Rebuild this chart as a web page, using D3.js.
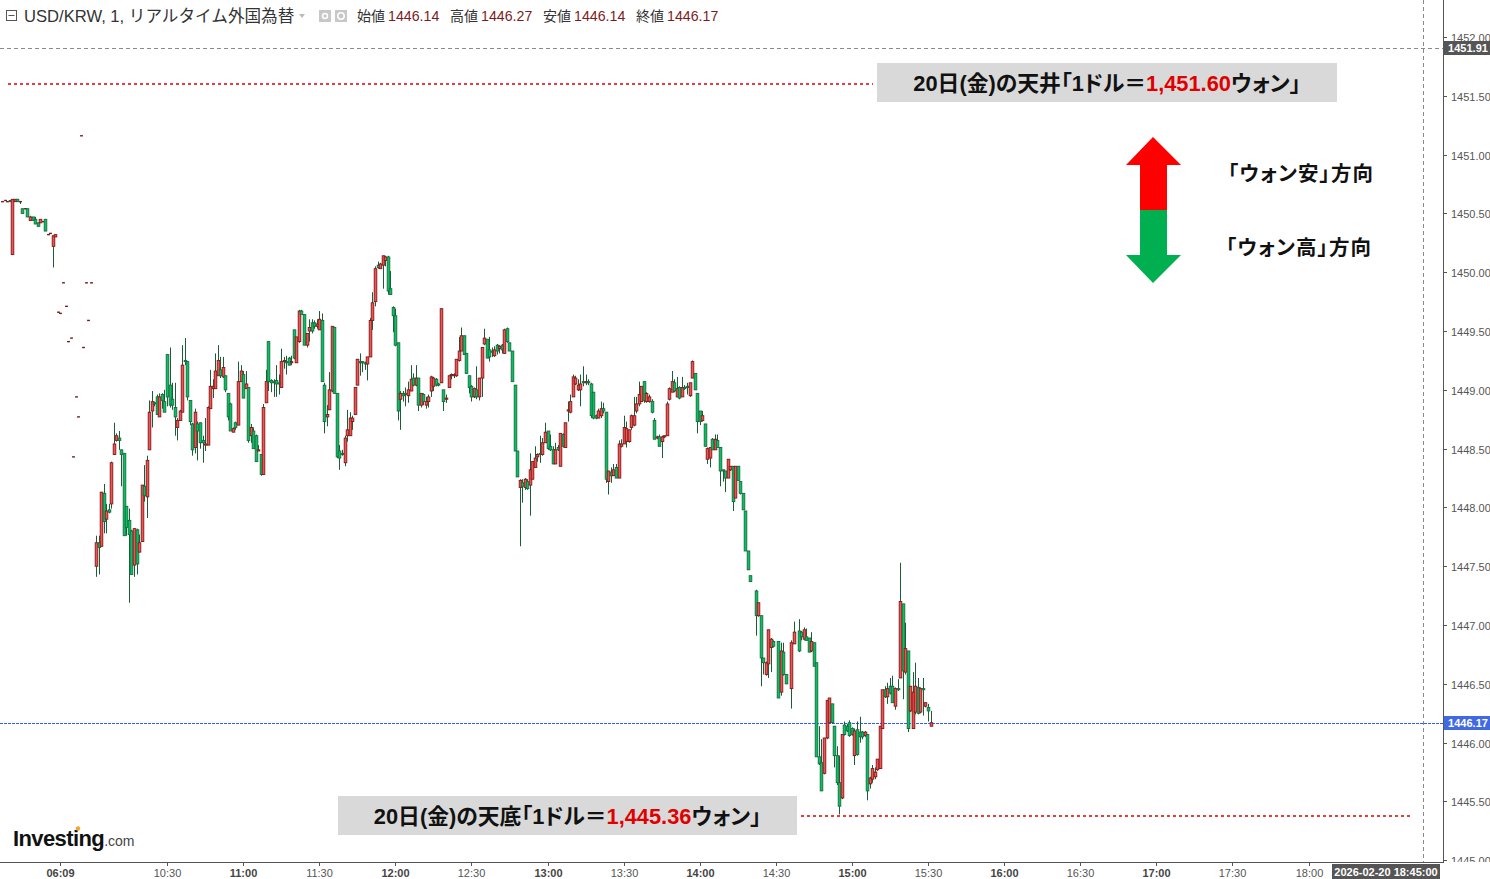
<!DOCTYPE html>
<html><head><meta charset="utf-8">
<script src="https://cdn.jsdelivr.net/npm/d3@7"></script>
<style>html,body{margin:0;padding:0;background:#fff;overflow:hidden}
.palt{font-feature-settings:"palt" 1;}</style>
</head><body>
<svg id="c" width="1490" height="879"></svg>
<script>
// ---------- DATA ----------
const symbolTitle = "USD/KRW, 1, リアルタイム外国為替";
const ohlcLabels = ["始値","高値","安値","終値"];
const ohlcValues = ["1446.14","1446.27","1446.14","1446.17"];
const priceTicks = [1445.0,1445.5,1446.0,1446.5,1447.0,1447.5,1448.0,1448.5,1449.0,1449.5,1450.0,1450.5,1451.0,1451.5,1452.0];
const timeTickSlots = [-42,0,30,60,90,120,150,180,210,240,270,300,330,360,390,420,450];
const timeTickLabels = ["06:09","10:30","11:00","11:30","12:00","12:30","13:00","13:30","14:00","14:30","15:00","15:30","16:00","16:30","17:00","17:30","18:00"];
const lastPrice = 1446.17;
const crossPrice = 1451.91;
const crossSlot = 495;
const crossLabel = "2026-02-20 18:45:00";
const dayHigh = 1451.60;
const dayLow = 1445.36;
const highText = ["20日(金)の天井「1ドル＝","1,451.60","ウォン」"];
const lowText = ["20日(金)の天底「1ドル＝","1,445.36","ウォン」"];
const arrowTexts = ["「ウォン安」方向","「ウォン高」方向"];
// candles: [slot, open, high, low, close]  (slot = minutes from 10:30, pre-session slots compressed)
const candles = [
[-65,1450.60,1450.60,1450.60,1450.60],[-64,1450.61,1450.61,1450.61,1450.61],[-63,1450.60,1450.60,1450.60,1450.60],
[-62,1450.61,1450.61,1450.60,1450.60],[-61,1450.15,1450.62,1450.15,1450.62],[-60,1450.60,1450.62,1450.60,1450.62],
[-59,1450.62,1450.62,1450.60,1450.60],[-58,1450.60,1450.60,1450.58,1450.60],[-57,1450.54,1450.54,1450.50,1450.50],
[-56,1450.54,1450.54,1450.54,1450.54],[-55,1450.54,1450.54,1450.47,1450.47],[-54,1450.44,1450.48,1450.44,1450.47],
[-53,1450.47,1450.47,1450.44,1450.44],[-52,1450.45,1450.47,1450.41,1450.41],[-51,1450.42,1450.42,1450.39,1450.39],
[-50,1450.42,1450.45,1450.42,1450.45],[-49,1450.43,1450.43,1450.43,1450.43],[-48,1450.45,1450.45,1450.35,1450.35],
[-47,1450.32,1450.32,1450.32,1450.32],[-46,1450.33,1450.33,1450.33,1450.33],[-45,1450.22,1450.31,1450.04,1450.31],
[-44,1450.30,1450.32,1450.30,1450.32],
[-43,1449.66,1449.66,1449.66,1449.66],[-42,1449.65,1449.65,1449.65,1449.65],[-41,1449.91,1449.91,1449.91,1449.91],
[-40,1449.71,1449.71,1449.71,1449.71],[-39,1449.41,1449.41,1449.41,1449.41],[-38,1449.44,1449.44,1449.44,1449.44],
[-37,1448.43,1448.43,1448.43,1448.43],[-36,1448.94,1448.94,1448.94,1448.94],[-35,1448.77,1448.77,1448.77,1448.77],
[-34,1451.16,1451.16,1451.16,1451.16],[-33,1449.36,1449.36,1449.36,1449.36],[-32,1449.91,1449.91,1449.91,1449.91],
[-31,1449.59,1449.59,1449.59,1449.59],[-30,1449.91,1449.91,1449.91,1449.91],
[-28,1447.50,1447.76,1447.41,1447.70],[-27,1447.70,1447.76,1447.43,1447.66],[-26,1447.67,1448.13,1447.67,1448.13],
[-25,1448.12,1448.20,1447.78,1447.88],[-24,1447.90,1448.03,1447.78,1447.97],[-23,1447.98,1448.03,1447.95,1447.96],
[-22,1448.03,1448.39,1447.99,1448.38],[-21,1448.45,1448.72,1448.45,1448.54],[-20,1448.57,1448.63,1448.56,1448.61],
[-19,1448.59,1448.65,1448.49,1448.57],[-18,1448.49,1448.49,1448.18,1448.45],[-17,1448.46,1448.46,1447.76,1447.76],
[-16,1448.01,1448.01,1447.76,1447.83],[-15,1447.89,1447.99,1447.19,1447.77],[-14,1447.80,1447.81,1447.43,1447.43],
[-13,1447.51,1447.82,1447.41,1447.82],[-12,1447.81,1447.82,1447.43,1447.52],[-11,1447.62,1447.77,1447.62,1447.70],
[-10,1447.71,1448.19,1447.71,1448.19],[-9,1448.18,1448.36,1448.05,1448.10],[-8,1448.09,1448.44,1447.91,1448.40],
[-7,1448.49,1448.91,1448.49,1448.81],[-6,1448.82,1448.99,1448.68,1448.90],[-5,1448.89,1448.90,1448.86,1448.88],
[-4,1448.94,1448.96,1448.79,1448.79],[-3,1448.77,1448.97,1448.77,1448.94],[-2,1448.96,1448.97,1448.84,1448.91],
[-1,1448.90,1449.00,1448.81,1448.81],[0,1449.30,1449.30,1448.86,1448.94],[1,1449.04,1449.36,1448.85,1448.87],
[2,1448.92,1449.06,1448.83,1448.87],[3,1448.85,1449.06,1448.61,1448.77],[4,1448.68,1448.76,1448.57,1448.74],
[5,1448.74,1448.83,1448.74,1448.82],[6,1448.81,1449.38,1448.81,1449.21],[7,1449.25,1449.44,1449.21,1449.24],
[8,1449.24,1449.24,1448.91,1448.94],[9,1448.91,1448.91,1448.70,1448.73],[10,1448.71,1448.72,1448.44,1448.49],
[11,1448.51,1448.84,1448.46,1448.81],[12,1448.71,1448.73,1448.40,1448.65],[13,1448.72,1448.72,1448.50,1448.55],
[14,1448.57,1448.61,1448.38,1448.55],[15,1448.53,1448.76,1448.48,1448.54],[16,1448.53,1448.86,1448.53,1448.85],
[17,1448.84,1449.17,1448.84,1449.03],[18,1449.01,1449.09,1448.93,1449.03],[19,1449.01,1449.31,1449.01,1449.16],
[20,1449.12,1449.38,1449.12,1449.25],[21,1449.17,1449.28,1449.10,1449.12],[22,1449.11,1449.28,1449.10,1449.19],
[23,1449.12,1449.12,1448.98,1449.00],[24,1448.97,1448.97,1448.74,1448.77],[25,1448.88,1448.89,1448.65,1448.65],
[26,1448.64,1448.68,1448.64,1448.67],[27,1448.72,1448.73,1448.66,1448.68],[28,1448.70,1449.24,1448.70,1449.07],
[29,1449.07,1449.21,1449.07,1449.16],[30,1449.13,1449.16,1448.93,1448.93],[31,1449.01,1449.16,1449.01,1449.05],
[32,1449.02,1449.02,1448.55,1448.57],[33,1448.61,1448.71,1448.55,1448.68],[34,1448.65,1448.68,1448.50,1448.50],
[35,1448.61,1448.62,1448.39,1448.39],[36,1448.48,1448.53,1448.48,1448.49],[37,1448.45,1448.45,1448.27,1448.28],
[38,1448.28,1448.88,1448.28,1448.85],[39,1448.89,1449.17,1448.89,1449.07],[40,1449.41,1449.41,1448.99,1449.07],
[41,1449.08,1449.09,1448.98,1449.06],[42,1449.07,1449.09,1448.94,1449.06],[43,1449.08,1449.21,1448.94,1449.05],
[44,1449.06,1449.13,1448.96,1449.05],[45,1449.02,1449.35,1449.02,1449.24],[46,1449.24,1449.28,1449.18,1449.25],
[47,1449.24,1449.29,1449.13,1449.23],[48,1449.27,1449.28,1449.21,1449.21],[49,1449.23,1449.29,1449.21,1449.24],
[50,1449.51,1449.51,1449.26,1449.27],[51,1449.23,1449.45,1449.23,1449.45],[52,1449.41,1449.68,1449.40,1449.67],
[53,1449.67,1449.68,1449.64,1449.64],[54,1449.64,1449.64,1449.38,1449.38],[55,1449.38,1449.48,1449.36,1449.48],
[56,1449.50,1449.60,1449.41,1449.53],[57,1449.57,1449.60,1449.48,1449.50],[58,1449.57,1449.59,1449.52,1449.54],
[59,1449.54,1449.60,1449.52,1449.56],[60,1449.51,1449.67,1449.51,1449.60],[61,1449.59,1449.65,1449.07,1449.07],
[62,1449.04,1449.06,1448.63,1448.73],[63,1448.77,1448.87,1448.69,1448.79],[64,1448.83,1449.15,1448.83,1449.00],
[65,1448.99,1449.54,1448.98,1449.54],[66,1449.53,1449.53,1448.97,1448.97],[67,1448.97,1448.97,1448.42,1448.43],
[68,1448.48,1448.53,1448.32,1448.42],[69,1448.46,1448.49,1448.44,1448.45],[70,1448.38,1448.61,1448.35,1448.59],
[71,1448.61,1448.83,1448.56,1448.66],[72,1448.61,1448.81,1448.61,1448.76],[73,1448.73,1448.78,1448.66,1448.76],
[74,1448.79,1449.02,1448.79,1449.02],[75,1449.04,1449.26,1449.04,1449.26],[76,1449.24,1449.31,1449.12,1449.23],
[77,1449.24,1449.24,1449.15,1449.23],[78,1449.23,1449.24,1449.17,1449.22],[79,1449.22,1449.28,1449.08,1449.28],
[80,1449.28,1449.61,1449.28,1449.59],[81,1449.59,1449.83,1449.51,1449.74],[82,1449.75,1450.05,1449.71,1450.03],
[83,1450.06,1450.09,1450.03,1450.04],[84,1450.03,1450.08,1450.03,1450.07],[85,1450.06,1450.14,1449.86,1450.14],
[86,1450.10,1450.14,1450.05,1450.13],[87,1450.13,1450.14,1449.81,1449.84],[88,1449.86,1450.01,1449.81,1449.81],
[89,1449.70,1449.71,1449.49,1449.63],[90,1449.63,1449.69,1449.37,1449.38],[91,1449.40,1449.40,1448.74,1448.82],
[92,1448.92,1448.99,1448.66,1448.97],[93,1448.97,1448.99,1448.90,1448.95],[94,1448.97,1449.02,1448.86,1448.96],
[95,1448.95,1449.07,1448.89,1449.00],[96,1448.99,1449.21,1448.99,1449.09],[97,1449.10,1449.14,1449.03,1449.04],
[98,1449.04,1449.21,1449.03,1449.10],[99,1449.10,1449.10,1448.82,1448.87],[100,1448.87,1448.97,1448.85,1448.97],
[101,1448.96,1448.97,1448.87,1448.90],[102,1448.87,1448.94,1448.84,1448.90],[103,1448.90,1448.96,1448.85,1448.94],
[104,1448.99,1449.12,1448.94,1449.11],[105,1449.03,1449.11,1448.99,1449.10],[106,1449.09,1449.10,1449.03,1449.04],
[107,1449.05,1449.06,1449.03,1449.04],[108,1449.06,1449.69,1449.06,1449.69],[109,1449.00,1449.00,1448.82,1448.90],
[110,1448.92,1448.96,1448.89,1448.93],[111,1449.02,1449.12,1449.02,1449.12],[112,1449.12,1449.14,1449.09,1449.13],
[113,1449.12,1449.14,1449.10,1449.13],[114,1449.12,1449.26,1449.11,1449.26],[115,1449.25,1449.45,1449.24,1449.33],
[116,1449.33,1449.53,1449.33,1449.46],[117,1449.46,1449.46,1449.30,1449.30],[118,1449.31,1449.31,1449.14,1449.14],
[119,1449.12,1449.12,1448.97,1449.02],[120,1449.03,1449.04,1448.90,1448.94],[121,1448.94,1449.02,1448.93,1449.01],
[122,1449.00,1449.20,1448.92,1448.94],[123,1448.94,1449.10,1448.91,1449.10],[124,1449.10,1449.36,1448.94,1449.36],
[125,1449.39,1449.52,1449.38,1449.44],[126,1449.43,1449.43,1449.27,1449.27],[127,1449.34,1449.45,1449.24,1449.28],
[128,1449.33,1449.36,1449.28,1449.32],[129,1449.29,1449.37,1449.28,1449.34],[130,1449.38,1449.39,1449.30,1449.33],
[131,1449.35,1449.38,1449.31,1449.37],[132,1449.38,1449.39,1449.31,1449.34],[133,1449.31,1449.52,1449.31,1449.51],
[134,1449.52,1449.53,1449.40,1449.41],[135,1449.40,1449.40,1449.33,1449.33],[136,1449.33,1449.33,1449.07,1449.07],
[137,1449.04,1449.04,1448.48,1448.48],[138,1448.48,1448.48,1448.26,1448.26],[139,1448.17,1448.24,1447.67,1448.23],
[140,1448.21,1448.24,1448.04,1448.18],[141,1448.17,1448.25,1448.15,1448.24],[142,1448.22,1448.24,1448.15,1448.16],
[143,1448.19,1448.46,1447.93,1448.32],[144,1448.24,1448.39,1448.24,1448.39],[145,1448.34,1448.52,1448.34,1448.42],
[146,1448.43,1448.46,1448.39,1448.45],[147,1448.46,1448.61,1448.38,1448.45],[148,1448.45,1448.59,1448.44,1448.55],
[149,1448.55,1448.72,1448.55,1448.64],[150,1448.65,1448.65,1448.49,1448.50],[151,1448.52,1448.62,1448.48,1448.49],
[152,1448.49,1448.52,1448.37,1448.37],[153,1448.37,1448.55,1448.37,1448.49],[154,1448.51,1448.53,1448.48,1448.49],
[155,1448.35,1448.63,1448.35,1448.63],[156,1448.62,1448.63,1448.51,1448.52],[157,1448.51,1448.72,1448.51,1448.72],
[158,1448.82,1448.90,1448.73,1448.83],[159,1448.81,1448.96,1448.80,1448.90],[160,1448.94,1449.13,1448.94,1449.11],
[161,1449.05,1449.12,1449.04,1449.10],[162,1449.00,1449.09,1448.99,1449.04],[163,1449.00,1449.13,1448.86,1449.05],
[164,1449.07,1449.20,1449.03,1449.06],[165,1449.06,1449.13,1449.04,1449.07],[166,1449.07,1449.09,1449.04,1449.06],
[167,1449.05,1449.06,1448.76,1448.78],[168,1448.98,1448.98,1448.75,1448.76],[169,1448.78,1448.79,1448.75,1448.76],
[170,1448.76,1448.84,1448.76,1448.82],[171,1448.78,1448.90,1448.76,1448.84],[172,1448.84,1448.89,1448.80,1448.82],
[173,1448.81,1448.81,1448.21,1448.24],[174,1448.22,1448.31,1448.11,1448.31],[175,1448.30,1448.34,1448.21,1448.27],
[176,1448.27,1448.37,1448.27,1448.32],[177,1448.34,1448.37,1448.25,1448.25],[178,1448.25,1448.57,1448.25,1448.54],
[179,1448.52,1448.58,1448.51,1448.54],[180,1448.54,1448.78,1448.54,1448.68],[181,1448.56,1448.73,1448.51,1448.67],
[182,1448.56,1448.66,1448.55,1448.66],[183,1448.68,1448.79,1448.66,1448.78],[184,1448.70,1448.94,1448.69,1448.78],
[185,1448.82,1448.94,1448.80,1448.88],[186,1448.88,1449.07,1448.86,1448.96],[187,1448.90,1449.03,1448.90,1449.03],
[188,1449.07,1449.07,1448.89,1448.91],[189,1448.90,1448.98,1448.89,1448.97],[190,1448.90,1448.96,1448.89,1448.94],
[191,1448.90,1448.92,1448.80,1448.81],[192,1448.74,1448.76,1448.58,1448.58],[193,1448.59,1448.61,1448.58,1448.60],
[194,1448.60,1448.62,1448.52,1448.52],[195,1448.56,1448.61,1448.42,1448.60],[196,1448.60,1448.61,1448.59,1448.61],
[197,1448.61,1448.90,1448.61,1448.88],[198,1448.92,1449.02,1448.91,1449.01],[199,1448.98,1449.16,1448.98,1449.07],
[200,1449.06,1449.09,1448.98,1448.99],[201,1448.94,1449.11,1448.94,1449.01],[202,1449.02,1449.03,1448.92,1448.93],
[203,1448.94,1449.11,1448.94,1449.02],[204,1449.02,1449.04,1449.00,1449.01],[205,1449.03,1449.06,1448.96,1449.02],
[206,1448.95,1449.06,1448.94,1449.06],[207,1449.10,1449.25,1449.10,1449.24],[208,1449.14,1449.14,1449.00,1449.00],
[209,1448.97,1448.97,1448.63,1448.73],[210,1448.82,1448.82,1448.70,1448.73],[211,1448.74,1448.82,1448.73,1448.78],
[212,1448.71,1448.71,1448.52,1448.52],[213,1448.41,1448.51,1448.37,1448.50],[214,1448.42,1448.51,1448.34,1448.51],
[215,1448.58,1448.59,1448.49,1448.49],[216,1448.49,1448.62,1448.49,1448.58],[217,1448.57,1448.62,1448.51,1448.51],
[218,1448.51,1448.51,1448.18,1448.31],[219,1448.32,1448.32,1448.22,1448.31],[220,1448.31,1448.31,1448.13,1448.25],
[221,1448.25,1448.41,1448.25,1448.41],[222,1448.32,1448.35,1448.31,1448.35],[223,1448.35,1448.35,1447.97,1448.05],
[224,1448.08,1448.35,1448.08,1448.35],[225,1448.35,1448.35,1448.23,1448.23],[226,1448.22,1448.22,1448.11,1448.12],
[227,1448.12,1448.12,1447.98,1447.98],[228,1447.97,1447.97,1447.63,1447.63],[229,1447.63,1447.63,1447.47,1447.47],
[230,1447.42,1447.42,1447.37,1447.37],[232,1447.29,1447.30,1446.91,1447.08],[233,1447.08,1447.19,1447.07,1447.19],
[234,1447.08,1447.08,1446.48,1446.72],[235,1446.72,1446.72,1446.58,1446.68],[236,1446.58,1446.69,1446.57,1446.68],
[237,1446.67,1446.96,1446.55,1446.96],[238,1446.81,1446.89,1446.60,1446.88],[239,1446.86,1446.87,1446.81,1446.82],
[241,1446.86,1446.86,1446.38,1446.38],[242,1446.43,1446.85,1446.40,1446.78],[243,1446.77,1446.85,1446.57,1446.58],
[244,1446.58,1446.58,1446.50,1446.50],[246,1446.46,1446.87,1446.29,1446.85],[247,1446.84,1447.03,1446.84,1446.94],
[249,1446.95,1447.05,1446.77,1446.78],[250,1446.94,1446.95,1446.87,1446.90],[251,1446.88,1446.98,1446.87,1446.96],
[252,1446.90,1446.97,1446.87,1446.87],[253,1446.89,1446.89,1446.77,1446.77],[254,1446.78,1446.94,1446.77,1446.86],
[255,1446.85,1446.85,1446.65,1446.65],[256,1446.68,1446.68,1445.88,1445.88],[257,1445.88,1446.14,1445.81,1445.82],
[258,1445.83,1446.03,1445.59,1445.59],[259,1445.74,1446.04,1445.73,1446.04],[260,1446.04,1446.36,1446.03,1446.36],
[261,1446.17,1446.38,1446.17,1446.38],[262,1446.33,1446.33,1446.16,1446.17],[263,1446.14,1446.14,1445.79,1445.89],
[264,1445.89,1445.97,1445.64,1445.66],[265,1445.66,1445.89,1445.39,1445.46],[266,1445.53,1446.07,1445.52,1446.07],
[267,1446.15,1446.18,1446.06,1446.07],[268,1446.14,1446.16,1446.09,1446.10],[269,1446.17,1446.19,1446.05,1446.06],
[270,1446.12,1446.13,1446.06,1446.07],[271,1445.89,1446.12,1445.81,1446.10],[272,1446.11,1446.18,1445.89,1445.90],
[273,1446.09,1446.22,1446.00,1446.05],[274,1446.09,1446.10,1446.03,1446.05],[275,1446.06,1446.10,1446.05,1446.09],
[276,1446.07,1446.07,1445.51,1445.59],[277,1445.65,1445.71,1445.61,1445.70],[278,1445.69,1445.81,1445.66,1445.78],
[279,1445.71,1445.79,1445.69,1445.75],[280,1445.77,1445.86,1445.76,1445.86],[281,1445.78,1446.14,1445.78,1446.14],
[282,1446.12,1446.45,1446.12,1446.45],[283,1446.45,1446.48,1446.38,1446.39],[284,1446.39,1446.51,1446.33,1446.46],
[285,1446.48,1446.55,1446.41,1446.42],[286,1446.48,1446.57,1446.34,1446.34],[287,1446.31,1446.47,1446.28,1446.46],
[288,1446.46,1446.54,1446.44,1446.45],[289,1446.55,1447.53,1446.55,1447.20],[290,1447.18,1447.18,1446.37,1446.61],
[291,1446.60,1447.02,1446.58,1446.80],[292,1446.78,1446.78,1446.09,1446.12],[293,1446.27,1446.48,1446.26,1446.48],
[294,1446.12,1446.60,1446.12,1446.43],[295,1446.26,1446.68,1446.24,1446.48],[296,1446.47,1446.55,1446.24,1446.25],
[297,1446.26,1446.47,1446.25,1446.46],[298,1446.46,1446.55,1446.23,1446.45],[299,1446.31,1446.34,1446.30,1446.34],
[300,1446.30,1446.33,1446.18,1446.27],[301,1446.14,1446.27,1446.14,1446.17]
];

// ---------- LAYOUT ----------
const FONT = "'Liberation Sans', Arial, 'Noto Sans CJK JP', sans-serif";
const JFONT = "'Noto Sans CJK JP', 'Liberation Sans', sans-serif";
const plotRight = 1443, plotBottom = 862;
const svg = d3.select("#c").style("font-family", FONT);
const x = d3.scaleLinear().domain([0, 300]).range([167, 928]);
const y = d3.scaleLinear().domain([1445, 1452]).range([860.3, 37]);

svg.append("defs").append("clipPath").attr("id","plot")
  .append("rect").attr("x",0).attr("y",0).attr("width",plotRight).attr("height",plotBottom);

// header
const hdr = svg.append("g");
hdr.append("rect").attr("x",6.5).attr("y",10.5).attr("width",10).attr("height",10).attr("fill","none").attr("stroke","#555");
hdr.append("line").attr("x1",8.5).attr("x2",14.5).attr("y1",15.5).attr("y2",15.5).attr("stroke","#555");
hdr.append("text").attr("x",24).attr("y",21.5).attr("font-size",16.6).attr("fill","#333").text(symbolTitle);
hdr.append("path").attr("d","M299,14 L305,14 L302,18 Z").attr("fill","#bbb");
[319,335].forEach((px,i)=>{
  hdr.append("rect").attr("x",px).attr("y",10).attr("width",12).attr("height",12).attr("fill","#c8c8c8");
  hdr.append("circle").attr("cx",px+6).attr("cy",16).attr("r",i?3.2:2.5).attr("fill","none").attr("stroke","#fff").attr("stroke-width",1.5);
});
const labelX = [357,450,543,636];
ohlcLabels.forEach((t,i)=>{
  hdr.append("text").attr("x",labelX[i]).attr("y",21).attr("font-size",14).attr("fill","#333").text(t);
  hdr.append("text").attr("x",labelX[i]+31).attr("y",21).attr("font-size",14.2).attr("fill","#7b1c1c").text(ohlcValues[i]);
});

// crosshair lines
svg.append("line").attr("x1",0).attr("x2",plotRight).attr("y1",Math.round(y(crossPrice))+0.5).attr("y2",Math.round(y(crossPrice))+0.5)
  .attr("stroke","#8a8a8a").attr("stroke-dasharray","4,3");
svg.append("line").attr("x1",Math.round(x(crossSlot))+0.5).attr("x2",Math.round(x(crossSlot))+0.5).attr("y1",0).attr("y2",plotBottom)
  .attr("stroke","#8a8a8a").attr("stroke-dasharray","4,3");

// last price line
svg.append("line").attr("x1",0).attr("x2",plotRight).attr("y1",Math.round(y(lastPrice))+0.5).attr("y2",Math.round(y(lastPrice))+0.5)
  .attr("stroke","#2a5cff").attr("stroke-dasharray","3,1");

// candles
const gC = svg.append("g").attr("clip-path","url(#plot)");
const WICK = "#1d5c38";
candles.forEach(([s,o,h,l,c])=>{
  const cx = Math.round(x(s)) + 0.5;
  const hi = Math.max(h,o,c), lo = Math.min(l,o,c);
  if (hi !== lo) {
    gC.append("line").attr("x1",cx).attr("x2",cx).attr("y1",y(hi)).attr("y2",y(lo)).attr("stroke",WICK).attr("stroke-width",1);
  }
  if (o === c) {
    gC.append("rect").attr("x",cx-1.4).attr("y",y(o)-0.7).attr("width",2.8).attr("height",1.4).attr("fill","#6e1a1a");
  } else {
    const up = c > o;
    const top = y(Math.max(o,c)), bot = y(Math.min(o,c));
    gC.append("rect").attr("x",cx-1.3).attr("y",top).attr("width",2.6).attr("height",Math.max(1,bot-top))
      .attr("fill", up ? "#f5524f" : "#00c462")
      .attr("stroke", up ? "#7d1a1a" : "#1b6a3e").attr("stroke-width",0.9);
  }
});

// day high/low dotted lines
svg.append("line").attr("x1",8).attr("x2",873).attr("y1",y(dayHigh)).attr("y2",y(dayHigh))
  .attr("stroke","#e00000").attr("stroke-width",1.6).attr("stroke-dasharray","3,3");
svg.append("line").attr("x1",801).attr("x2",1410).attr("y1",y(dayLow)-2).attr("y2",y(dayLow)-2)
  .attr("stroke","#e00000").attr("stroke-width",1.6).attr("stroke-dasharray","3,3");

function annot(x0, y0, w, h, parts){
  svg.append("rect").attr("x",x0).attr("y",y0).attr("width",w).attr("height",h).attr("fill","#d9d9d9");
  const t = svg.append("text").attr("class","palt").attr("x",x0+w/2).attr("y",y0+h/2+8).attr("text-anchor","middle")
    .attr("font-size",21.8).attr("font-weight","bold").attr("fill","#111");
  t.append("tspan").text(parts[0]);
  t.append("tspan").attr("fill","#e00000").text(parts[1]);
  t.append("tspan").text(parts[2]);
}
annot(877, 63, 460, 39, highText);
annot(338, 796, 459, 39, lowText);

// arrows
svg.append("path").attr("d","M1153,137 L1181,165 L1167,165 L1167,210 L1140,210 L1140,165 L1126,165 Z").attr("fill","#ff0000");
svg.append("path").attr("d","M1140,210 L1167,210 L1167,255 L1181,255 L1153,283 L1126,255 L1140,255 Z").attr("fill","#00b050");
svg.append("text").attr("class","palt").attr("x",1228).attr("y",181).attr("font-size",20.5).attr("letter-spacing",1.1).attr("font-weight","bold").attr("fill","#111").attr("font-family",JFONT).text(arrowTexts[0]);
svg.append("text").attr("class","palt").attr("x",1226).attr("y",255).attr("font-size",20.5).attr("letter-spacing",1.1).attr("font-weight","bold").attr("fill","#111").attr("font-family",JFONT).text(arrowTexts[1]);

// logo
const logo = svg.append("text").attr("x",13).attr("y",846).attr("fill","#111");
logo.append("tspan").attr("font-size",22).attr("font-weight","bold").attr("letter-spacing",-0.6).text("Investing");
logo.append("tspan").attr("font-size",14).attr("fill","#444").text(".com");
svg.append("circle").attr("cx",78).attr("cy",828.5).attr("r",2.2).attr("fill","#f5a623");

// right axis
const ra = svg.append("g");
ra.append("line").attr("x1",plotRight+0.5).attr("x2",plotRight+0.5).attr("y1",0).attr("y2",plotBottom).attr("stroke","#555");
const raClip = svg.append("defs").append("clipPath").attr("id","raclip");
raClip.append("rect").attr("x",plotRight).attr("y",0).attr("width",60).attr("height",plotBottom);
const rag = ra.append("g").attr("clip-path","url(#raclip)");
priceTicks.forEach(p=>{
  const yy = Math.round(y(p))+0.5;
  rag.append("line").attr("x1",plotRight).attr("x2",plotRight+4).attr("y1",yy).attr("y2",yy).attr("stroke","#555");
  rag.append("text").attr("x",1451).attr("y",yy+4).attr("font-size",11).attr("fill","#555").text(p.toFixed(2));
});

// x axis
const xa = svg.append("g");
xa.append("line").attr("x1",0).attr("x2",plotRight+1).attr("y1",plotBottom+0.5).attr("y2",plotBottom+0.5).attr("stroke","#555");
timeTickSlots.forEach((s,i)=>{
  const xx = Math.round(x(s))+0.5;
  const lab = timeTickLabels[i];
  const bold = /:00$/.test(lab) && lab !== "18:00" || lab === "06:09";
  xa.append("line").attr("x1",xx).attr("x2",xx).attr("y1",plotBottom).attr("y2",plotBottom+4).attr("stroke","#555");
  xa.append("text").attr("x",xx).attr("y",877).attr("text-anchor","middle").attr("font-size",11)
    .attr("font-weight", bold ? "bold" : "normal").attr("fill", bold ? "#444" : "#555").text(lab);
});

// labels on axes
function tag(x0,y0,w,h,fill,txt,cx){
  svg.append("rect").attr("x",x0).attr("y",y0).attr("width",w).attr("height",h).attr("fill",fill);
  svg.append("text").attr("x",cx).attr("y",y0+h/2+4).attr("text-anchor","middle").attr("font-size",11)
    .attr("font-weight","bold").attr("fill","#fff").text(txt);
}
tag(plotRight+1, Math.round(y(crossPrice))-7, 46, 14, "#555", crossPrice.toFixed(2), 1468);
tag(plotRight+1, Math.round(y(lastPrice))-7, 46, 14, "#4169e1", lastPrice.toFixed(2), 1468);
tag(1332, 864, 108, 15, "#555", crossLabel, 1386);
</script>
</body></html>
